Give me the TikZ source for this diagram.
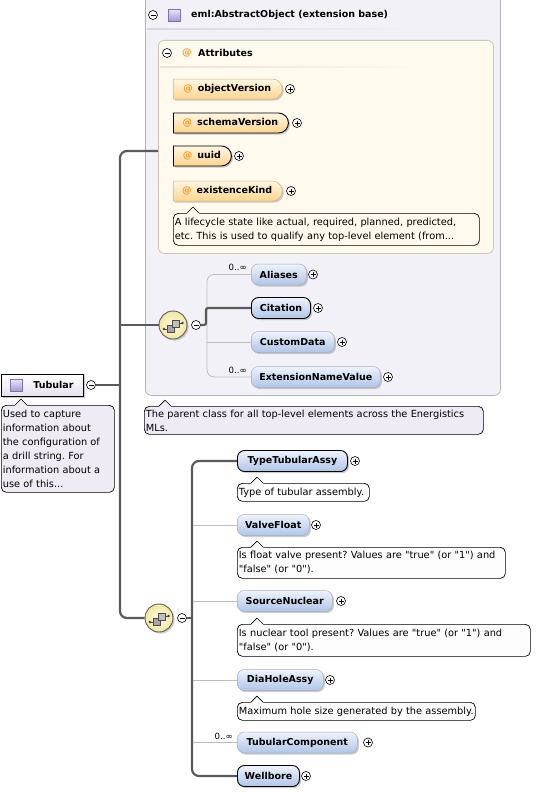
\documentclass[tikz,border=0pt]{standalone}
\usepackage{fontspec}
\setmainfont{DejaVu Sans}
\newfontfamily\annfam{DejaVu Sans}
\usetikzlibrary{shapes.misc,shadows}
\frenchspacing
\definecolor{lineDark}{HTML}{5A5A5A}
\definecolor{lineLight}{HTML}{BDBDBD}
\definecolor{extfill}{HTML}{F3F1F8}
\definecolor{extborder}{HTML}{B4B4BC}
\definecolor{attfill}{HTML}{FFF9EE}
\definecolor{attborder}{HTML}{CCC4B4}
\definecolor{elemtop}{HTML}{EEF3FC}
\definecolor{elembot}{HTML}{B0C5E7}
\definecolor{attop}{HTML}{FFF6E4}
\definecolor{attbot}{HTML}{FFD48F}
\definecolor{atorange}{HTML}{F09A28}
\definecolor{optborder}{HTML}{A6ADBA}
\definecolor{attoptborder}{HTML}{D6B882}
\definecolor{annwhite}{HTML}{FDFDFD}
\definecolor{annlav}{HTML}{EEEBF4}
\definecolor{seqin}{HTML}{FFFBE0}
\definecolor{seqout}{HTML}{F2E7A4}
\definecolor{seqborder}{HTML}{5E5E5E}
\definecolor{tubbot}{HTML}{E6E2EE}
\definecolor{icontop}{HTML}{ECE6F8}
\definecolor{iconbot}{HTML}{A898D0}
\definecolor{iconborder}{HTML}{8070B0}
\definecolor{sepgray}{HTML}{D8D6DE}
\definecolor{attsep}{HTML}{ECE2D0}
\newcommand\lblfont{\fontsize{9.5}{11}\selectfont\bfseries}
\newcommand\annfont{\annfam\fontsize{9.8}{14}\selectfont}
\newcommand\attxt[1]{{\color{atorange}@}\hspace{5pt}#1}
\newcommand\annptr[3]{%
  \fill[#3] (#1-6,#2+0.9) -- (#1-6,#2) -- (#1,#2-6) -- (#1+6,#2) -- (#1+6,#2+0.9) -- cycle;
  \draw[line width=0.7pt, line join=round] (#1-6,#2) -- (#1,#2-6) -- (#1+6,#2);}
\newcommand\seqglyph[1]{%
  \begin{scope}[shift={(#1.center)}]
    \draw[line width=0.8pt, draw=black!70] (-9,4) -- (-6,4);
    \fill[black!75] (-9,4) circle (1.3pt);
    \draw[line width=0.8pt, draw=black!70] (6,-2) -- (9.5,-2);
    \fill[black!75] (9.5,-2) circle (1.3pt);
    \draw[fill=gray!70, draw=black!70, line width=0.6pt] (-6,0) rectangle (1,7);
    \draw[fill=gray!50, draw=black!70, line width=0.6pt] (-1,-5) rectangle (6,2);
  \end{scope}}
\begin{document}
\begin{tikzpicture}[x=1pt,y=-1pt,
  thickln/.style={draw=lineDark, line width=2.2pt, rounded corners=7pt},
  thinln/.style={draw=lineLight, line width=0.8pt, rounded corners=7pt},
  shad/.style={drop shadow={shadow xshift=1.6pt, shadow yshift=-1.6pt, fill=black!45, opacity=0.45}},
  elembase/.style={rectangle, rounded corners=7pt, minimum height=21pt, inner sep=0pt,
    top color=elemtop, bottom color=elembot, font=\lblfont, anchor=west, shad},
  elemopt/.style={elembase, draw=optborder, line width=0.5pt},
  elemreq/.style={elembase, draw=black, line width=0.9pt},
  attbase/.style={rounded rectangle, rounded rectangle west arc=none, minimum height=20pt, inner sep=0pt,
    top color=attop, bottom color=attbot, font=\lblfont, anchor=west, shad},
  attopt/.style={attbase, draw=attoptborder, line width=0.5pt},
  attreq/.style={attbase, draw=black, line width=0.9pt},
  annbox/.style={rectangle, rounded corners=5pt, draw=black, line width=0.7pt, anchor=north west,
    inner xsep=1.5pt, inner ysep=1pt, align=left, font=\annfont},
  plusc/.style={circle, draw=black, line width=0.6pt, fill=white, minimum size=9pt, inner sep=0pt,
    path picture={\draw[line width=0.7pt]
      ([xshift=-2.5pt]path picture bounding box.center) -- ([xshift=2.5pt]path picture bounding box.center)
      ([yshift=-2.5pt]path picture bounding box.center) -- ([yshift=2.5pt]path picture bounding box.center);}},
  minusc/.style={circle, draw=black, line width=0.6pt, fill=white, minimum size=9pt, inner sep=0pt,
    path picture={\draw[line width=0.7pt]
      ([xshift=-2.5pt]path picture bounding box.center) -- ([xshift=2.5pt]path picture bounding box.center);}},
  seqc/.style={circle, draw=seqborder, line width=0.9pt, inner color=seqin, outer color=seqout,
    minimum size=28pt, inner sep=0pt, shad},
  iconsq/.style={rectangle, draw=iconborder, line width=0.5pt, top color=icontop, bottom color=iconbot,
    minimum width=12pt, minimum height=12pt, inner sep=0pt},
  mult/.style={font=\fontsize{8.6}{9}\selectfont, inner sep=0pt, anchor=east},
  lbl/.style={font=\lblfont, inner sep=0pt, anchor=west}
]
\useasboundingbox (0,0) rectangle (537,792);

% ---- extension base container
\node[rectangle, draw=extborder, fill=extfill, line width=0.8pt, rounded corners=6pt,
  minimum width=355pt, minimum height=405pt, anchor=north west, inner sep=0pt] (extbox) at (145,-10) {};
\node[minusc] (extmin) at (153,15) {};
\node[iconsq] (exticon) at (174.5,15) {};
\node[lbl] (exttitle) at (191,15) {eml:AbstractObject (extension base)};
\shade[left color=sepgray, right color=extfill] (147,28.5) rectangle (413,30);

% ---- attributes container
\node[rectangle, draw=attborder, fill=attfill, line width=0.8pt, rounded corners=6pt,
  minimum width=335pt, minimum height=213pt, anchor=north west, inner sep=0pt] (attrbox) at (158,40) {};
\node[minusc] (attmin) at (167,53) {};
\node[lbl, text=atorange] (attat) at (182,53) {@};
\node[lbl] (atttitle) at (198,53) {Attributes};
\shade[left color=attsep, right color=attfill] (160,66.5) rectangle (420,68);

\node[attopt, minimum width=109pt] (objectVersion) at (173,89) {\attxt{objectVersion}};
\node[plusc] (pObjectVersion) at (290,89) {};
\node[attreq, minimum width=115pt] (schemaVersion) at (173,123) {\attxt{schemaVersion}};
\node[plusc] (pSchemaVersion) at (297,123) {};
\node[attreq, minimum width=58pt] (uuid) at (173,156) {\attxt{uuid}};
\node[plusc] (pUuid) at (239,156) {};
\node[attopt, minimum width=109pt] (existenceKind) at (173,191) {\attxt{existenceKind}};
\node[plusc] (pExistenceKind) at (291,191) {};
\node[annbox, fill=attfill, minimum width=306pt, minimum height=32pt, text width=303pt] (ekAnn) at (173,213)
  {\mbox{A lifecycle state like actual, required, planned, predicted,}\\\mbox{etc. This is used to qualify any top-level element (from...}};
\annptr{193}{213}{attfill}

% ---- sequence inside extension
\node[seqc] (seq1) at (173,325) {};
\seqglyph{seq1}
\node[minusc] (seq1min) at (196,325) {};

\node[elemopt, minimum width=55pt] (Aliases) at (251,274.5) {Aliases};
\node[plusc] (pAliases) at (313,274.5) {};
\node[elemreq, minimum width=59pt] (Citation) at (251,308) {Citation};
\node[plusc] (pCitation) at (318,308) {};
\node[elemopt, minimum width=83pt] (CustomData) at (251,342) {CustomData};
\node[plusc] (pCustomData) at (342,342) {};
\node[elemopt, minimum width=129pt] (ExtensionNameValue) at (251,377) {ExtensionNameValue};
\node[plusc] (pExtensionNameValue) at (388,377) {};
\node[mult] (mAliases) at (247,267.5) {0..∞};
\node[mult] (mENV) at (247,370) {0..∞};

\draw[thinln] (Aliases.west) -- (207,274.5) -- (207,377) -- (ExtensionNameValue.west);
\draw[thinln] (207,342) -- (CustomData.west);
\draw[thickln, rounded corners=2pt] (seq1min.east) -- (206,325) -- (206,308) -- (Citation.west);

\node[annbox, fill=annlav, minimum width=339pt, minimum height=28pt, text width=336pt] (extAnn) at (144,406)
  {\mbox{The parent class for all top-level elements across the Energistics}\\MLs.};
\annptr{165}{406}{annlav}

% ---- Tubular root
\node[rectangle, draw=black, line width=0.9pt, top color=white, bottom color=tubbot, font=\lblfont,
  minimum width=82pt, minimum height=22pt, inner sep=0pt, anchor=west, shad] (Tubular) at (1,385) {\hspace*{22pt}Tubular};
\node[iconsq] (tubicon) at (16,385) {};
\node[minusc] (tubmin) at (91,385) {};
\node[annbox, fill=annlav, minimum width=113pt, minimum height=87pt, text width=110pt] (tubAnn) at (1,405)
  {\mbox{Used to capture}\\\mbox{information about}\\\mbox{the configuration of}\\\mbox{a drill string. For}\\\mbox{information about a}\\\mbox{use of this...}};
\annptr{21}{405}{annlav}

% ---- trunk
\coordinate (attIn) at (158,151);
\coordinate (trunkTop) at (120,151);
\coordinate (trunkTub) at (120,385);
\coordinate (trunkSeq1) at (120,325);
\node[seqc] (seq2) at (159,618) {};
\seqglyph{seq2}
\node[minusc] (seq2min) at (182,618) {};
\draw[thickln] (attIn) -- (trunkTop) |- (seq2.west);
\draw[thickln] (tubmin.east) -- (trunkTub);
\draw[thickln] (trunkSeq1) -- (seq1.west);

% ---- second sequence
\node[elemreq, minimum width=110pt] (TypeTubularAssy) at (237,461) {TypeTubularAssy};
\node[plusc] (pTypeTubularAssy) at (355,461) {};
\node[annbox, fill=annwhite, minimum width=132pt, minimum height=18pt, text width=129pt] (ttaAnn) at (237,483)
  {\mbox{Type of tubular assembly.}};
\annptr{257}{483}{annwhite}

\node[elemopt, minimum width=72pt] (ValveFloat) at (237,525) {ValveFloat};
\node[plusc] (pValveFloat) at (316,525) {};
\node[annbox, fill=annwhite, minimum width=268pt, minimum height=31pt, text width=265pt] (vfAnn) at (237,547)
  {\mbox{Is float valve present? Values are "true" (or "1") and}\\\mbox{"false" (or "0").}};
\annptr{257}{547}{annwhite}

\node[elemopt, minimum width=95pt] (SourceNuclear) at (237,601) {SourceNuclear};
\node[plusc] (pSourceNuclear) at (341,601) {};
\node[annbox, fill=annwhite, minimum width=293pt, minimum height=32pt, text width=290pt] (snAnn) at (237,624)
  {\mbox{Is nuclear tool present? Values are "true" (or "1") and}\\\mbox{"false" (or "0").}};
\annptr{257}{624}{annwhite}

\node[elemopt, minimum width=86pt] (DiaHoleAssy) at (237,680) {DiaHoleAssy};
\node[plusc] (pDiaHoleAssy) at (330,680) {};
\node[annbox, fill=annwhite, minimum width=238pt, minimum height=18pt, text width=235pt] (dhaAnn) at (237,702)
  {\mbox{Maximum hole size generated by the assembly.}};
\annptr{257}{702}{annwhite}

\node[elemopt, minimum width=120pt] (TubularComponent) at (237,742.5) {TubularComponent};
\node[plusc] (pTubularComponent) at (368,742.5) {};
\node[mult] (mTubComp) at (233,736) {0..∞};

\node[elemreq, minimum width=62pt] (Wellbore) at (237,776) {Wellbore};
\node[plusc] (pWellbore) at (306,776) {};

\draw[thinln] (192,525) -- (ValveFloat.west);
\draw[thinln] (192,601) -- (SourceNuclear.west);
\draw[thinln] (192,680) -- (DiaHoleAssy.west);
\draw[thinln] (192,742.5) -- (TubularComponent.west);
\draw[thickln] (TypeTubularAssy.west) -- (192,461) -- (192,776) -- (Wellbore.west);
\draw[thickln] (seq2min.east) -- (192,618);
\end{tikzpicture}
\end{document}
